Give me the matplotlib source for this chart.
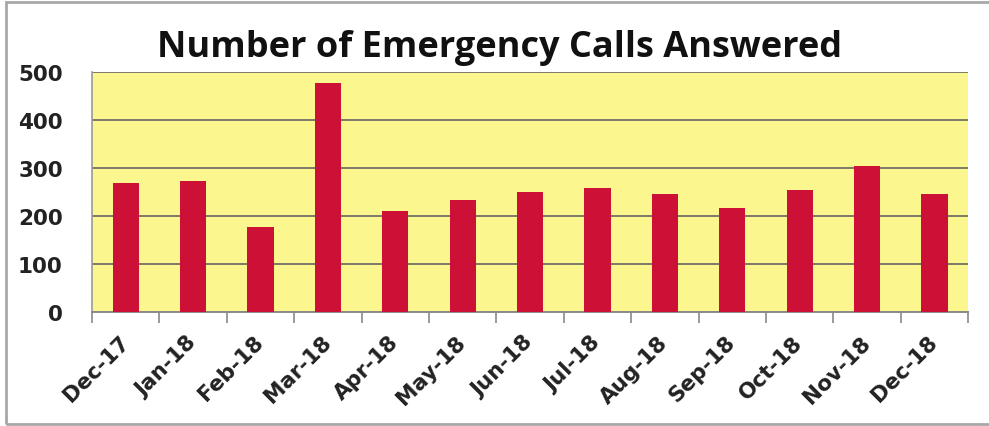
import matplotlib
matplotlib.use("Agg")
import matplotlib.pyplot as plt
from matplotlib.patches import Rectangle
from matplotlib.transforms import ScaledTranslation
import numpy as np

months = ["Dec-17", "Jan-18", "Feb-18", "Mar-18", "Apr-18", "May-18", "Jun-18",
          "Jul-18", "Aug-18", "Sep-18", "Oct-18", "Nov-18", "Dec-18"]
calls = [270, 273, 178, 478, 211, 235, 250, 260, 247, 217, 254, 304, 247]
y_ticks = [0, 100, 200, 300, 400, 500]

fig = plt.figure(figsize=(9.89, 4.27), dpi=100)
fig.patch.set_facecolor("white")
ax = fig.add_axes([0.093, 0.2663, 0.886, 0.562])
ax.set_facecolor("#FBF68E")

x = np.arange(len(months))
ax.bar(x, calls, width=0.39, color="#CC1036", zorder=3)

ax.set_xlim(-0.5, len(months) - 0.5)
ax.set_ylim(0, 500)
ax.set_yticks(y_ticks)
ax.yaxis.grid(True, color="#7a7a6a", linewidth=1.4, zorder=1)
ax.tick_params(axis="y", length=0, pad=21)
ax.set_yticklabels([str(v) for v in y_ticks], fontsize=15.5, fontweight="bold",
                   family="DejaVu Sans", color="#222222")

# category labels at centres, tick marks at category boundaries
ax.set_xticks(x)
ax.set_xticklabels(months, rotation=45, ha="right", va="center",
                   rotation_mode="anchor", fontsize=15.5, fontweight="bold",
                   family="DejaVu Sans", color="#222222")
shift = ScaledTranslation(-6 / 100, 0, fig.dpi_scale_trans)
for lbl in ax.get_xticklabels():
    lbl.set_transform(lbl.get_transform() + shift)
ax.set_xticks(np.arange(-0.5, len(months)), minor=True)
ax.tick_params(axis="x", which="major", length=0, pad=19)
ax.tick_params(axis="x", which="minor", length=8, width=1.2, color="#8a8a8a")

for side in ["top", "right"]:
    ax.spines[side].set_visible(False)
ax.spines["left"].set_color("#9a9a9a")
ax.spines["left"].set_linewidth(1.2)
ax.spines["bottom"].set_color("#8a8a8a")
ax.spines["bottom"].set_linewidth(1.4)

fig.text(0.505, 0.888, "Number of Emergency Calls Answered", ha="center",
         va="center", fontsize=26, fontweight="bold", family="Open Sans",
         color="#111111")

# chart frame
fig.add_artist(Rectangle((0.006, 0.004), 1.0, 0.99, transform=fig.transFigure,
                         fill=False, edgecolor="#a8a8a8", linewidth=2))

fig.savefig("out.png", dpi=100)
